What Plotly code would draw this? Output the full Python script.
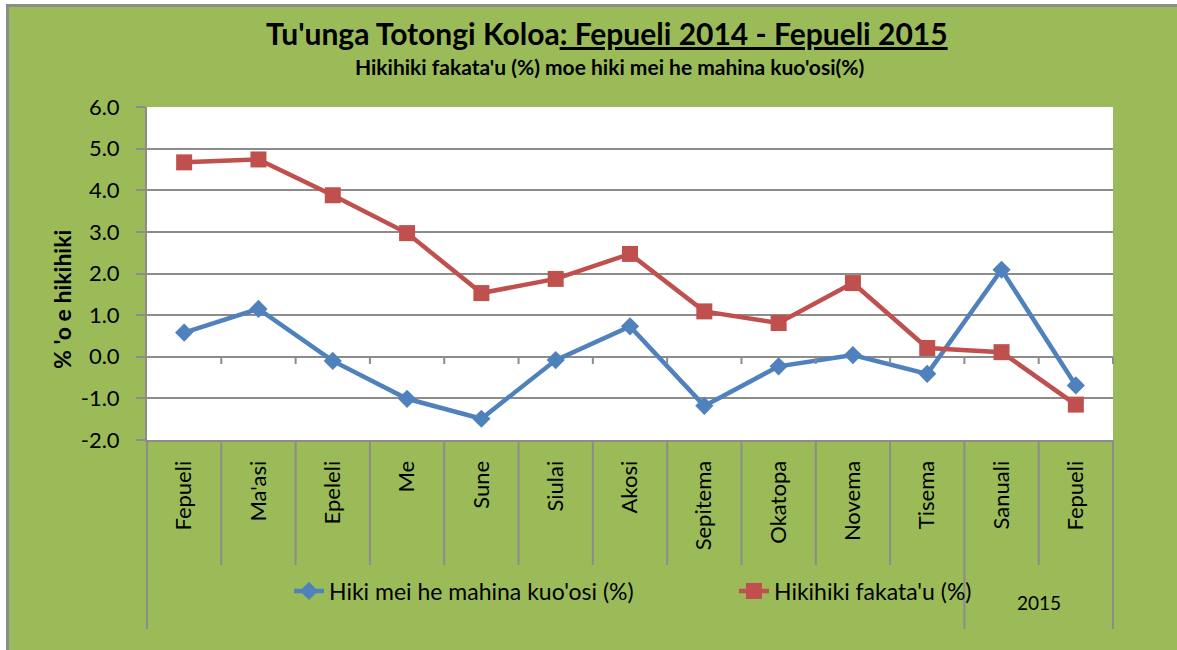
import plotly.graph_objects as go

# ---------------- data ----------------
months = ["Fepueli", "Ma'asi", "Epeleli", "Me", "Sune", "Siulai", "Akosi",
          "Sepitema", "Okatopa", "Novema", "Tisema", "Sanuali", "Fepueli"]
monthly_change = [0.58, 1.15, -0.10, -1.01, -1.49, -0.08, 0.73,
                  -1.18, -0.23, 0.04, -0.41, 2.09, -0.69]
annual_change = [4.67, 4.74, 3.88, 2.97, 1.53, 1.87, 2.47,
                 1.09, 0.81, 1.77, 0.21, 0.11, -1.15]
y_ticks = [-2, -1, 0, 1, 2, 3, 4, 5, 6]
y_tick_labels = ["-2.0", "-1.0", "0.0", "1.0", "2.0", "3.0", "4.0", "5.0", "6.0"]
year_groups = [("", 0, 10), ("2015", 11, 12)]

series_names = ["Hiki mei he mahina kuo'osi (%)", "Hikihiki fakata'u (%)"]
title_main = "Tu'unga Totongi Koloa"
title_under = ": Fepueli 2014 - Fepueli 2015"
subtitle = "Hikihiki fakata'u (%) moe hiki mei he mahina kuo'osi(%)"
y_title = "% 'o e hikihiki"

# ---------------- layout geometry ----------------
W, H = 1177, 650
L, R, T, B = 147, 1113, 107, 440
GREEN = "#9BBB59"
GRID = "#8C8C8C"
FONT = "Lato"


def px2x(p):
    return (p - L) / (R - L)


def py2y(p):
    return (B - p) / (B - T)


n = len(months)
x_idx = list(range(n))

fig = go.Figure()
fig.add_trace(go.Scatter(
    x=x_idx, y=monthly_change, name=series_names[0], mode="lines+markers",
    line=dict(color="#4F81BD", width=4.5),
    marker=dict(symbol="diamond", size=14, color="#4F81BD"),
))
fig.add_trace(go.Scatter(
    x=x_idx, y=annual_change, name=series_names[1], mode="lines+markers",
    line=dict(color="#C0504D", width=4.5),
    marker=dict(symbol="square", size=16, color="#C0504D"),
))

shapes = []
# category table dividers
group_edges = set()
for _, a, b in year_groups:
    group_edges.add(a)
    group_edges.add(b + 1)
for k in range(n + 1):
    y_end = 629 if k in group_edges else 565
    shapes.append(dict(type="line", xref="paper", yref="paper",
                       x0=k / n, x1=k / n, y0=0, y1=py2y(y_end),
                       line=dict(color=GRID, width=2)))
# small ticks below zero line
for k in range(1, n + 1):
    shapes.append(dict(type="line", xref="paper", yref="paper",
                       x0=k / n, x1=k / n, y0=py2y(357), y1=py2y(364),
                       line=dict(color=GRID, width=2)))
# white cropped margins + outer frame
shapes.append(dict(type="rect", xref="paper", yref="paper", x0=px2x(0), x1=px2x(W),
                   y0=py2y(0), y1=py2y(4), fillcolor="white", line=dict(width=0)))
shapes.append(dict(type="rect", xref="paper", yref="paper", x0=px2x(0), x1=px2x(6),
                   y0=py2y(0), y1=py2y(H), fillcolor="white", line=dict(width=0)))
shapes.append(dict(type="line", xref="paper", yref="paper", x0=px2x(6), x1=px2x(W),
                   y0=py2y(5.5), y1=py2y(5.5), line=dict(color=GRID, width=3)))
shapes.append(dict(type="line", xref="paper", yref="paper", x0=px2x(7.5), x1=px2x(7.5),
                   y0=py2y(4), y1=py2y(H), line=dict(color=GRID, width=3)))

annotations = [
    dict(text="<b>" + title_main + "<u>" + title_under + "</u></b>",
         xref="paper", yref="paper", x=px2x(607), y=py2y(33),
         xanchor="center", yanchor="middle",
         showarrow=False, font=dict(size=30, color="black", family=FONT)),
    dict(text="<b>" + subtitle + "</b>",
         xref="paper", yref="paper", x=px2x(609), y=py2y(66),
         xanchor="center", yanchor="middle",
         showarrow=False, font=dict(size=21, color="black", family=FONT)),
    dict(text="<b>" + y_title + "</b>", textangle=-90,
         xref="paper", yref="paper", x=px2x(62), y=py2y(300),
         xanchor="center", yanchor="middle",
         showarrow=False, font=dict(size=23, color="black", family=FONT)),
]
for label, a, b in year_groups:
    if label:
        annotations.append(dict(text=label, xref="paper", yref="paper",
                                x=(a + b + 1) / 2 / n, y=py2y(602),
                                xanchor="center", yanchor="middle",
                                showarrow=False,
                                font=dict(size=19, color="black", family=FONT)))

fig.update_layout(
    width=W, height=H,
    margin=dict(l=L, r=W - R, t=T, b=H - B, autoexpand=False),
    paper_bgcolor=GREEN, plot_bgcolor="white",
    font=dict(family=FONT, color="black"),
    showlegend=True,
    legend=dict(orientation="h", x=px2x(734), xanchor="center",
                y=py2y(591), yanchor="middle", bgcolor="rgba(0,0,0,0)",
                font=dict(size=23, color="black", family=FONT),
                entrywidth=400, entrywidthmode="pixels"),
    xaxis=dict(range=[-0.5, n - 0.5], tickmode="array", tickvals=x_idx,
               ticktext=months, tickangle=-90, ticks="", showgrid=False,
               showline=True, linecolor=GRID, linewidth=2, zeroline=False,
               tickfont=dict(size=22, color="black", family=FONT),
               ticklabelstandoff=10, fixedrange=True),
    yaxis=dict(range=[-2, 6], tickmode="array", tickvals=y_ticks,
               ticktext=y_tick_labels, showgrid=True, gridcolor=GRID, gridwidth=2,
               zeroline=True, zerolinecolor=GRID, zerolinewidth=2,
               showline=True, linecolor=GRID, linewidth=2,
               ticks="outside", ticklen=9, tickcolor=GRID, tickwidth=2,
               tickfont=dict(size=22, color="black", family=FONT),
               ticklabelstandoff=12, fixedrange=True),
    shapes=shapes, annotations=annotations,
)

fig.write_html("out.html", config={"displayModeBar": False},
               post_script="document.body.style.margin='0';")
